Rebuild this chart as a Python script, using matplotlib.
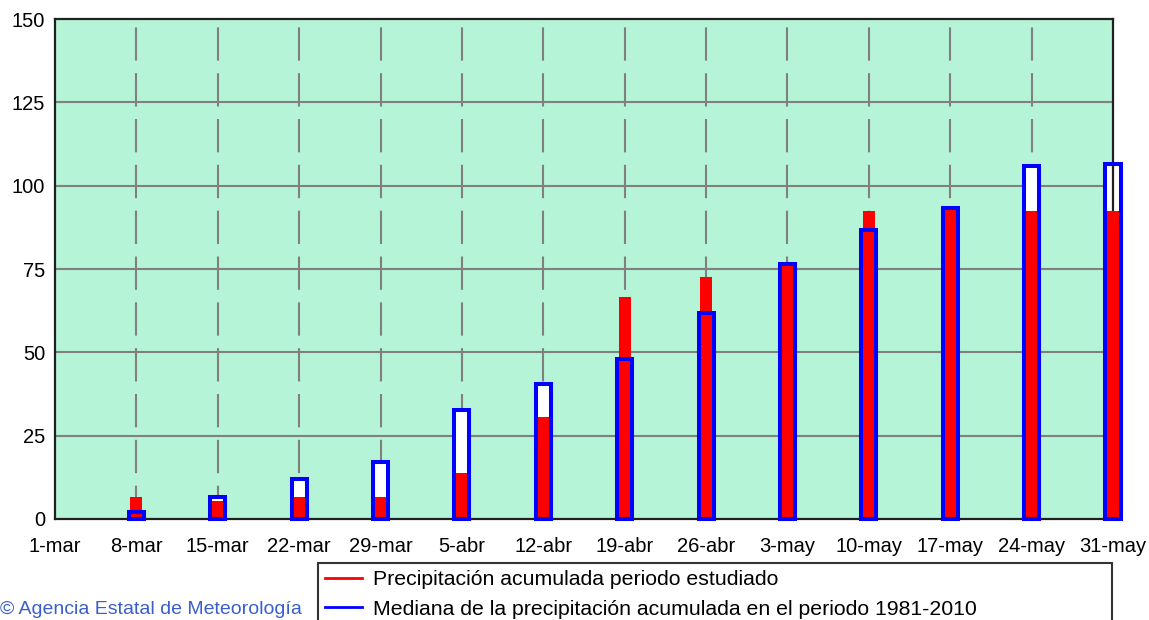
import matplotlib.pyplot as plt
from matplotlib.lines import Line2D
import numpy as np

plt.rcParams['font.family'] = ['Liberation Sans', 'DejaVu Sans']

# semanas (eje x)
fechas = ['1-mar', '8-mar', '15-mar', '22-mar', '29-mar', '5-abr', '12-abr',
          '19-abr', '26-abr', '3-may', '10-may', '17-may', '24-may', '31-may']
# precipitacion acumulada (mm), desde 8-mar
estudiado = [6.6, 5.5, 6.7, 6.7, 13.7, 30.6, 66.7, 72.7, 76.2, 92.4, 93.0, 92.4, 92.4]
mediana = [2.2, 6.5, 11.9, 17.2, 32.7, 40.5, 47.9, 61.7, 76.5, 86.7, 93.2, 106.0, 106.5]
yticks = [0, 25, 50, 75, 100, 125, 150]

x = np.arange(1, len(fechas))

fig = plt.figure(figsize=(11.49, 6.2), dpi=100)
ax = fig.add_axes([55/1149, 101/620, 1058/1149, 500/620])
ax.set_facecolor('#b6f4d7')

# rejilla
for y in yticks[1:-1]:
    ax.axhline(y, color='#808080', lw=1.5, zorder=1)
for xi in x[:-1]:
    ax.axvline(xi, color='#808080', lw=1.5, ls=(0, (16, 6)), zorder=1)

ax.bar(x, mediana, 0.185, color='white', zorder=2, clip_on=False)
ax.bar(x, estudiado, 0.145, color='#ff0000', zorder=3, clip_on=False)
ax.bar(x, mediana, 0.185, facecolor='none', edgecolor='#0000ff', lw=2.9,
       zorder=4, clip_on=False)

ax.set_xlim(0, len(fechas) - 1)
ax.set_ylim(0, 150)
ax.set_xticks(np.arange(len(fechas)))
ax.set_xticklabels(fechas)
ax.set_yticks(yticks)
ax.tick_params(length=0, labelsize=14.5)
ax.tick_params(axis='x', pad=13)
ax.tick_params(axis='y', pad=7)
for s in ax.spines.values():
    s.set_linewidth(1.6)
    s.set_color('#202020')

handles = [Line2D([], [], color='#ff0000', lw=2),
           Line2D([], [], color='#0000ff', lw=2)]
labels = ['Precipitación acumulada periodo estudiado',
          'Mediana de la precipitación acumulada en el periodo 1981-2010']
leg = fig.legend(handles, labels, loc='upper left', mode='expand',
                 bbox_to_anchor=(318/1149, -0.2, 794/1149, 0.2 + 57/620),
                 prop={'family': ['Liberation Sans'], 'size': 15.3},
                 frameon=True, fancybox=False, edgecolor='black', borderpad=0.33,
                 handlelength=1.75, handletextpad=0.5, labelspacing=0.5,
                 borderaxespad=0)
leg.get_frame().set_linewidth(1.5)

fig.text(0.0, 10/620, '\u00a9 Agencia Estatal de Meteorología', color='#3a5fcd',
         fontsize=14, va='center', ha='left')

fig.savefig('out.png', dpi=100)
